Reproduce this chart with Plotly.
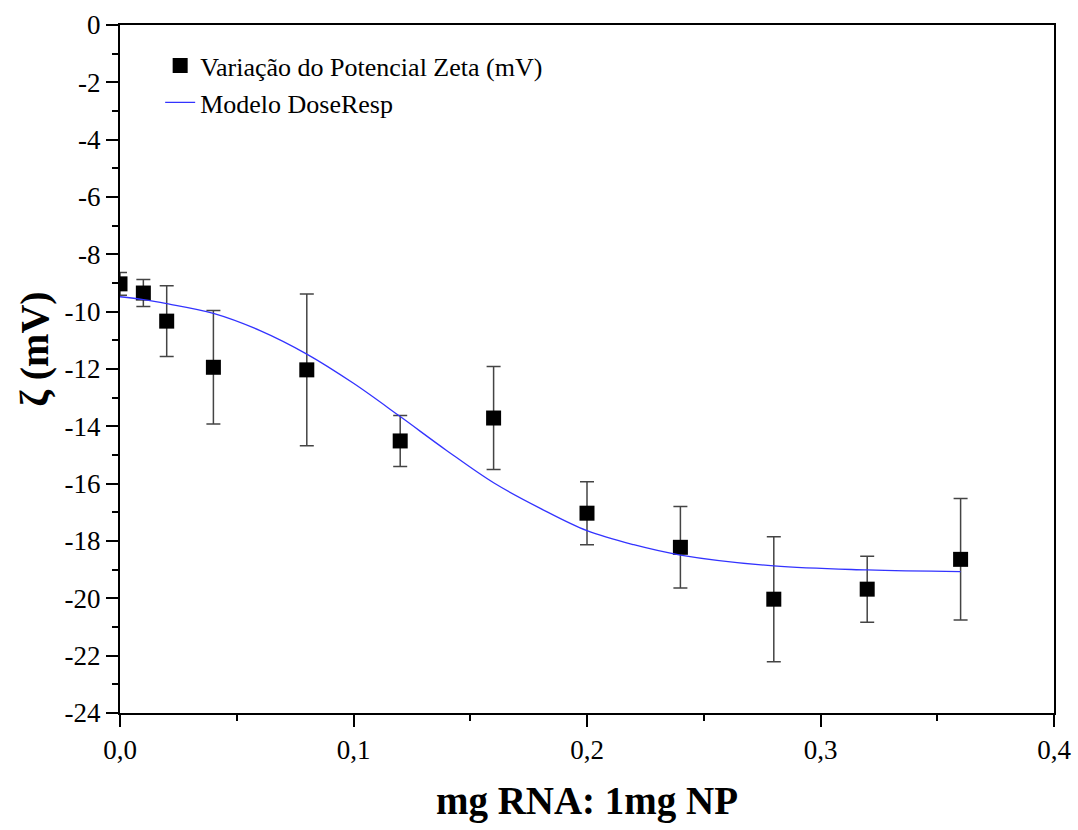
import plotly.graph_objects as go

# Experimental data
dose = [0.0, 0.01, 0.02, 0.04, 0.08, 0.12, 0.16, 0.20, 0.24, 0.28, 0.32, 0.36]
zeta = [-9.03, -9.35, -10.33, -11.94, -12.03, -14.51, -13.71, -17.03, -18.22, -20.03, -19.68, -18.64]
zeta_err = [0.40, 0.47, 1.23, 1.98, 2.65, 0.89, 1.80, 1.10, 1.42, 2.18, 1.15, 2.12]

# DoseResp model curve
fit_x = [0.0, 0.01, 0.02, 0.04, 0.06, 0.08, 0.10, 0.12, 0.14, 0.16, 0.18, 0.20, 0.22, 0.24, 0.28, 0.32, 0.36]
fit_y = [-9.48, -9.58, -9.72, -10.06, -10.66, -11.48, -12.50, -13.66, -14.85, -15.97, -16.86, -17.64, -18.13, -18.49, -18.87, -19.01, -19.07]

x_ticks = [0.0, 0.1, 0.2, 0.3, 0.4]
x_ticklabels = ["0,0", "0,1", "0,2", "0,3", "0,4"]
y_ticks = [0, -2, -4, -6, -8, -10, -12, -14, -16, -18, -20, -22, -24]
y_ticklabels = ["0", "-2", "-4", "-6", "-8", "-10", "-12", "-14", "-16", "-18", "-20", "-22", "-24"]

FF = "Liberation Serif, Times New Roman, serif"

fig = go.Figure()
fig.add_trace(go.Scatter(
    x=dose, y=zeta, mode="markers",
    name="Variação do Potencial Zeta (mV)",
    marker=dict(symbol="square", size=15, color="black"),
    error_y=dict(type="data", array=zeta_err, visible=True,
                 color="#444444", thickness=1.5, width=7),
))
fig.add_trace(go.Scatter(
    x=fit_x, y=fit_y, mode="lines",
    name="Modelo DoseResp",
    line=dict(color="#3333ff", width=1.3, shape="spline"),
))

fig.update_layout(
    width=1078, height=830,
    margin=dict(l=120, r=24, t=25, b=117),
    paper_bgcolor="white", plot_bgcolor="white",
    font=dict(family=FF, color="black", size=26),
    showlegend=True,
    legend=dict(x=0.043, y=0.975, xanchor="left", yanchor="top",
                bgcolor="rgba(0,0,0,0)", font=dict(size=26, family=FF, color="black"),
                tracegroupgap=0),
    xaxis=dict(
        range=[0, 0.4], showgrid=False, zeroline=False, automargin=False,
        showline=True, linecolor="black", linewidth=2, mirror=True,
        ticks="outside", ticklen=12, tickwidth=2, tickcolor="black",
        tickvals=x_ticks, ticktext=x_ticklabels,
        minor=dict(dtick=0.05, ticks="outside", ticklen=6, tickwidth=2, tickcolor="black"),
        tickfont=dict(size=27, family=FF, color="black"),
        title=dict(text="<b>mg RNA: 1mg NP</b>", font=dict(size=39, family=FF, color="black"), standoff=22),
    ),
    yaxis=dict(
        range=[-24, 0], showgrid=False, zeroline=False, automargin=False,
        showline=True, linecolor="black", linewidth=2, mirror=True,
        ticks="outside", ticklen=12, tickwidth=2, tickcolor="black",
        tickvals=y_ticks, ticktext=y_ticklabels,
        minor=dict(dtick=1, ticks="outside", ticklen=6, tickwidth=2, tickcolor="black"),
        tickfont=dict(size=27, family=FF, color="black"),
    ),
    annotations=[dict(
        text="<b>ζ (mV)</b>", textangle=-90, showarrow=False,
        xref="paper", yref="paper", x=-0.091, y=0.528,
        xanchor="center", yanchor="middle",
        font=dict(size=40, family=FF, color="black"),
    )],
)

fig.write_html("out.html")
